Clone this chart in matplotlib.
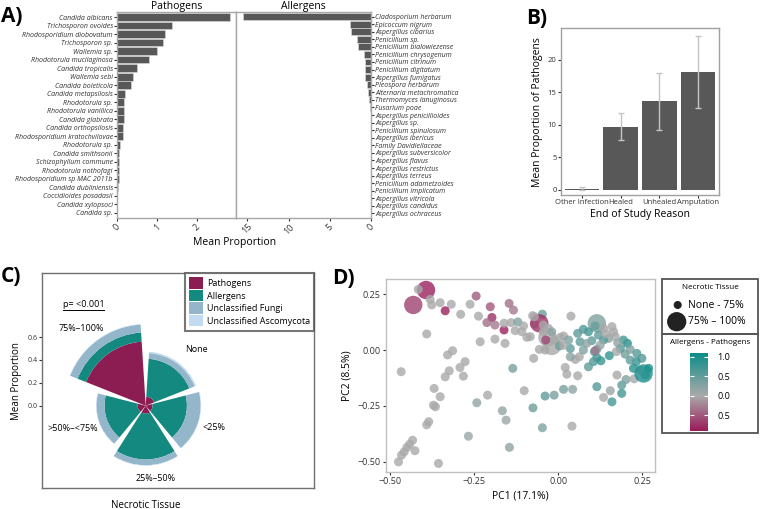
import matplotlib.pyplot as plt
import numpy as np
from matplotlib.colors import LinearSegmentedColormap, Normalize
from matplotlib.patches import Rectangle
from matplotlib.lines import Line2D

plt.rcParams['font.family'] = ['Open Sans', 'DejaVu Sans']

# ---- A) mean proportion per taxon ----
path_names = ['Candida albicans', 'Trichosporon ovoides', 'Rhodosporidium diobovatum',
              'Trichosporon sp.', 'Wallemia sp.', 'Rhodotorula mucilaginosa',
              'Candida tropicalis', 'Wallemia sebi', 'Candida boleticola',
              'Candida metapsilosis', 'Rhodotorula sp.', 'Rhodotorula vanillica',
              'Candida glabrata', 'Candida orthopsilosis', 'Rhodosporidium kratochvilovae',
              'Rhodotorula sp.', 'Candida smithsonii', 'Schizophyllum commune',
              'Rhodotorula nothofagi', 'Rhodosporidium sp MAC 2011b', 'Candida dubliniensis',
              'Coccidioides posadasii', 'Candida xylopsoci', 'Candida sp.']
path_vals = [2.83, 1.37, 1.20, 1.15, 1.01, 0.80, 0.51, 0.39, 0.36, 0.19, 0.18, 0.18,
             0.17, 0.16, 0.15, 0.08, 0.06, 0.06, 0.04, 0.04, 0.015, 0.005, 0.003, 0.002]

allg_names = ['Cladosporium herbarum', 'Epicoccum nigrum', 'Aspergillus cibarius',
              'Penicillium sp.', 'Penicillium bialowiezense', 'Penicillium chrysogenum',
              'Penicillium citrinum', 'Penicillium digitatum', 'Aspergillus fumigatus',
              'Pleospora herbarum', 'Alternaria metachromatica', 'Thermomyces lanuginosus',
              'Fusarium poae', 'Aspergillus penicillioides', 'Aspergillus sp.',
              'Penicillium spinulosum', 'Aspergillus ibericus', 'Family Davidiellaceae',
              'Aspergillus subversicolor', 'Aspergillus flavus', 'Aspergillus restrictus',
              'Aspergillus terreus', 'Penicillium adametzoides', 'Penicillium implicatum',
              'Aspergillus vitricola', 'Aspergillus candidus', 'Aspergillus ochraceus']
allg_vals = [15.5, 2.55, 2.46, 1.73, 1.53, 0.85, 0.77, 0.77, 0.73, 0.52, 0.36, 0.20, 0.12,
             0.05, 0.04, 0.03, 0.025, 0.02, 0.015, 0.012, 0.01, 0.008, 0.006, 0.005,
             0.004, 0.003, 0.002]

# ---- B) pathogens by end of study reason ----
reasons = ['Other Infection', 'Healed', 'Unhealed', 'Amputation']
reason_mean = [0.2, 9.7, 13.6, 18.1]
reason_err = [0.2, 2.1, 4.4, 5.5]

# ---- C) necrotic tissue composition ----
necro_cats = ['None', '<25%', '25%\u201350%', '>50%\u2013<75%', '75%\u2013100%']
groups = ['Pathogens', 'Allergens', 'Unclassified Fungi', 'Unclassified Ascomycota']
group_vals = [
    [0.08, 0.06, 0.07, 0.07, 0.56],
    [0.33, 0.30, 0.40, 0.29, 0.08],
    [0.05, 0.12, 0.05, 0.07, 0.07],
    [0.012, 0.004, 0.004, 0.004, 0.004],
]
group_cols = ['#8C1D52', '#14897F', '#94B6CA', '#C3DBF0']

# ---- D) PCA ----
pc1 = [-0.393, -0.431, -0.416, -0.381, -0.376, -0.351, -0.318, -0.336, -0.391, -0.290,
       -0.262, -0.244, -0.237, -0.202, -0.197, -0.212, -0.161, -0.146, -0.133, -0.140,
       -0.120, -0.128, -0.103, -0.093, -0.076, -0.047, -0.056, -0.071, -0.044, -0.032,
       -0.019, -0.009, 0.006, -0.037, 0.038, 0.058, 0.036, -0.232, -0.188, -0.158,
       -0.314, -0.329, -0.467, -0.277, -0.292, -0.282, -0.324, -0.336, -0.369, -0.351,
       -0.371, -0.365, -0.385, -0.391, -0.433, -0.442, -0.450, -0.458, -0.466, -0.475,
       -0.426, -0.356, -0.267, -0.242, -0.210, -0.166, -0.155, -0.145, -0.135, -0.101,
       -0.075, -0.047, -0.039, -0.012, 0.016, 0.043, 0.041, 0.026, 0.058, 0.051,
       0.021, -0.073, -0.056, 0.036, 0.063, 0.075, 0.016, 0.031, 0.004, 0.115,
       0.155, 0.160, 0.135, 0.189, 0.189, 0.202, 0.226, 0.254, 0.269, 0.259,
       0.244, 0.249, 0.232, 0.224, 0.214, 0.199, 0.185, 0.206, 0.194, 0.177,
       0.173, 0.175, 0.110, 0.115, 0.135, 0.160, 0.165, 0.150, 0.135, 0.125,
       0.115, 0.090, 0.100, 0.108, 0.115, 0.105, 0.127, 0.090, 0.152, 0.110,
       0.065, 0.085, 0.075, 0.120, 0.143, 0.170, 0.214, 0.234, -0.044, -0.029,
       0.016, -0.039, -0.083, -0.019, -0.071, -0.108, -0.161, -0.188]
pc2 = [0.269, 0.202, 0.272, 0.227, 0.202, 0.212, 0.205, 0.176, 0.072, 0.160,
       0.205, 0.242, 0.152, 0.194, 0.146, 0.123, 0.090, 0.209, 0.179, 0.123,
       0.126, 0.087, 0.108, 0.057, 0.154, 0.161, 0.120, 0.117, 0.082, 0.057,
       0.018, 0.045, 0.057, 0.045, 0.152, 0.075, 0.007, 0.037, 0.049, 0.030,
       -0.003, -0.022, -0.097, -0.052, -0.078, -0.117, -0.093, -0.120, -0.172, -0.209,
       -0.247, -0.254, -0.321, -0.335, -0.404, -0.422, -0.436, -0.456, -0.471, -0.501,
       -0.451, -0.508, -0.386, -0.236, -0.202, -0.272, -0.314, -0.436, -0.082, -0.182,
       -0.259, -0.348, -0.206, -0.202, -0.176, -0.176, -0.341, -0.108, -0.115, -0.042,
       -0.078, -0.037, 0.003, -0.030, -0.030, 0.000, 0.063, 0.045, 0.018, -0.164,
       -0.182, -0.232, -0.212, -0.157, -0.194, -0.132, -0.129, -0.105, -0.082, -0.112,
       -0.090, -0.037, -0.052, -0.082, -0.045, -0.018, 0.007, 0.030, 0.045, 0.033,
       -0.007, -0.112, 0.108, 0.120, 0.097, 0.105, 0.082, 0.052, 0.045, 0.022,
       0.003, 0.082, 0.042, -0.007, -0.033, -0.052, -0.048, -0.075, -0.025, -0.003,
       0.037, 0.030, 0.093, 0.067, 0.072, 0.060, 0.003, -0.015, 0.112, 0.097,
       0.022, 0.000, 0.060, 0.082, 0.149, 0.082, 0.120, 0.112]
ratio = [-0.85, -0.65, 0, 0, 0, 0, 0, -0.85, 0, 0,
         0, -0.5, 0, -0.5, -0.75, -0.35, -0.85, -0.35, -0.3, 0,
         0.3, 0, 0, 0, 0, 0.4, -0.75, -0.6, 0, 0,
         0, 0, 0, -0.6, 0, 0.5, 0.5, 0, 0, 0,
         0, 0, 0, 0, 0, 0, 0, 0, 0, 0,
         0, 0, 0, 0, 0, 0, 0, 0, 0, 0,
         0, 0, 0.1, 0.15, 0, 0.15, 0.1, 0.2, 0.35, 0,
         0.4, 0.3, 0.5, 0.35, 0.35, 0.2, 0, 0, 0, 0,
         0, 0, 0, 0.2, 0, 0.3, 0, 0.3, 0.4, 0.6,
         0.1, 0.7, 0, 0.5, 0.7, 0.3, 0, 1.0, 1.0, 0.9,
         0.8, 0.6, 0.8, 0.9, 0.5, 0.4, 0.6, 0.9, 0.7, 0.2,
         0, 0, 1.0, 0.3, 0, 0, 0, 0.2, 0.6, 0.1,
         0.3, 0.7, 0.5, 0.7, 0.7, 0.6, 0.8, 0.5, 0.8, -0.3,
         0.5, 0.2, 0.6, 0.5, 0, 0, 0.3, 0.6, 0, 0,
         0, 0, 0, 0.2, 0, 0, 0, -0.3]
big = [1, 1, 0, 0, 0, 0, 0, 0, 0, 0,
       0, 0, 0, 0, 0, 0, 0, 0, 0, 0,
       0, 0, 0, 0, 0, 0, 1, 0, 0, 1,
       1, 0, 0, 0, 0, 0, 0, 0, 0, 0,
       0, 0, 0, 0, 0, 0, 0, 0, 0, 0,
       0, 0, 0, 0, 0, 0, 0, 0, 0, 0,
       0, 0, 0, 0, 0, 0, 0, 0, 0, 0,
       0, 0, 0, 0, 0, 0, 0, 0, 0, 0,
       0, 0, 0, 0, 0, 0, 0, 0, 0, 0,
       0, 0, 0, 0, 0, 0, 0, 1, 0, 0,
       0, 0, 0, 0, 0, 0, 0, 0, 0, 0,
       0, 0, 0, 1, 0, 0, 0, 0, 0, 0,
       0, 0, 0, 0, 0, 0, 0, 0, 0, 0,
       0, 0, 0, 0, 0, 0, 0, 0, 0, 0,
       0, 0, 0, 0, 0, 0, 0, 0]

W, H = 760, 509
fig = plt.figure(figsize=(W / 100, H / 100), dpi=100)


def box(x0, y0, x1, y1, **kw):
    # pixel box (top-left origin) -> figure axes
    return fig.add_axes([x0 / W, 1 - y1 / H, (x1 - x0) / W, (y1 - y0) / H], **kw)


def frame(ax, col='#A8A8A8', lw=1.0):
    for s in ax.spines.values():
        s.set_color(col)
        s.set_linewidth(lw)


bar_col = '#585858'
tick_kw = dict(length=2, width=0.8, color='#333333', labelcolor='#333333')

# ---------------- A ----------------
axP = box(117, 12, 235.5, 218)
yP = np.arange(len(path_names))
axP.barh(yP, path_vals, height=0.9, color=bar_col, edgecolor='#DDDDDD', linewidth=0.4)
axP.set_ylim(len(path_names) - 0.4, -0.6)
axP.set_xlim(0, 2.96)
axP.set_yticks(yP)
axP.set_yticklabels(path_names, fontsize=5, style='italic')
axP.set_xticks([0, 1, 2])
axP.set_xticklabels(['0', '1', '2'], rotation=45, fontsize=6.5)
axP.tick_params(**tick_kw, pad=1)
axP.set_title('Pathogens', fontsize=7.5, pad=1)
frame(axP)

axA = box(235.5, 12, 371, 218)
yA = np.arange(len(allg_names))
axA.barh(yA, allg_vals, height=0.9, color=bar_col, edgecolor='#DDDDDD', linewidth=0.4)
axA.set_ylim(len(allg_names) - 0.4, -0.6)
axA.set_xlim(16.45, 0)
axA.yaxis.tick_right()
axA.set_yticks(yA)
axA.set_yticklabels(allg_names, fontsize=5, style='italic')
axA.set_xticks([15, 10, 5, 0])
axA.set_xticklabels(['15', '10', '5', '0'], rotation=45, fontsize=6.5)
axA.tick_params(**tick_kw, pad=1)
axA.set_title('Allergens', fontsize=7.5, pad=1)
frame(axA)

fig.text(235 / W, 1 - 243 / H, 'Mean Proportion', ha='center', va='center', fontsize=7.5)
fig.text(1 / W, 1 - 22 / H, 'A)', fontsize=15, fontweight='bold')

# ---------------- B ----------------
axB = box(560.7, 28.3, 719.3, 195)
xB = np.arange(len(reasons))
axB.bar(xB, reason_mean, width=0.9, color=bar_col)
axB.errorbar(xB, reason_mean, yerr=reason_err, fmt='none', ecolor='#C4C4C4',
             elinewidth=1, capsize=2.4, capthick=1)
axB.set_xlim(-0.55, 3.55)
axB.set_ylim(-0.77, 24.8)
axB.set_xticks(xB)
axB.set_xticklabels(reasons, fontsize=4.5)
axB.set_yticks([0, 5, 10, 15, 20])
axB.tick_params(**tick_kw, labelsize=5.5, pad=1)
axB.set_ylabel('Mean Proportion of Pathogens', fontsize=7.5, labelpad=3)
axB.set_xlabel('End of Study Reason', fontsize=7.5, labelpad=2)
frame(axB, '#A0A0A0')
fig.text(526 / W, 1 - 24 / H, 'B)', fontsize=15, fontweight='bold')

# ---------------- C ----------------
px_per = 114.5  # pixels per unit of proportion
cx, cy = 145.7, 405.7
axCf = box(41.7, 273.3, 314, 488)
axCf.set_ylim(-(488 - cy) / px_per, (cy - 273.3) / px_per)
axCf.set_yticks([0, 0.2, 0.4, 0.6])
axCf.set_yticklabels(['0.0', '0.2', '0.4', '0.6'])
axCf.set_xticks([])
axCf.tick_params(**tick_kw, labelsize=5, pad=1)
frame(axCf, '#707070', 1.0)
axCf.set_ylabel('Mean Proportion', fontsize=7, labelpad=4)
fig.text(cx / W, 1 - 505 / H, 'Necrotic Tissue', ha='center', va='center', fontsize=7)

R = 0.8
rp = R * px_per
axC = box(cx - rp, cy - rp, cx + rp, cy + rp, projection='polar')
axC.set_theta_zero_location('N')
axC.set_theta_direction(-1)
axC.set_ylim(0, R)
theta = np.arange(len(necro_cats)) * 2 * np.pi / len(necro_cats) + np.pi / len(necro_cats)
wid = 0.9 * 2 * np.pi / len(necro_cats)
bottom = np.zeros(len(necro_cats))
handles = []
for g, vals, col in zip(groups, group_vals, group_cols):
    h = axC.bar(theta, vals, width=wid, bottom=bottom, color=col, linewidth=0, label=g)
    handles.append(h)
    bottom = bottom + np.array(vals)
axC.axis('off')
lab_pos = [(42, 0.66), (108, 0.63), (172, 0.64), (253, 0.667), (320, 0.877)]
for name, (ang, rr) in zip(necro_cats, lab_pos):
    axC.text(np.deg2rad(ang), rr, name, ha='center', va='center', fontsize=6.5)

leg = axCf.legend(handles=handles, loc='upper right', bbox_to_anchor=(1.0, 1.0),
                  fontsize=6.5, frameon=True, fancybox=False, handlelength=1.6,
                  handleheight=1.6, handletextpad=0.4, labelspacing=0.1,
                  borderpad=0.45, borderaxespad=0)
leg.get_frame().set_edgecolor('#555555')
leg.get_frame().set_linewidth(1.5)

fig.text(63 / W, 1 - 307 / H, 'p= <0.001', fontsize=6.5)
fig.add_artist(Line2D([63 / W, 104 / W], [1 - 309.5 / H, 1 - 309.5 / H],
                      color='black', lw=0.7))
fig.text(1 / W, 1 - 282 / H, 'C)', fontsize=15, fontweight='bold')

# ---------------- D ----------------
vmin, vmax = -0.9, 1.09
mid = (0 - vmin) / (vmax - vmin)
cmap = LinearSegmentedColormap.from_list(
    'ap', [(0, '#9A1A5A'), (mid, '#A9A9A9'), (1, '#0D8E89')])
norm = Normalize(vmin, vmax)
s_small, s_big = 42, 175
sizes = np.where(np.array(big) == 1, s_big, s_small)

axD = box(385.7, 279.3, 655, 471.7)
axD.scatter(pc1, pc2, s=sizes, c=ratio, cmap=cmap, norm=norm, alpha=0.8, linewidths=0)
axD.set_xlim(-0.513, 0.288)
axD.set_ylim(-0.545, 0.317)
axD.set_xticks([-0.5, -0.25, 0, 0.25])
axD.set_xticklabels(['\u22120.50', '\u22120.25', '0.00', '0.25'])
axD.set_yticks([-0.5, -0.25, 0, 0.25])
axD.set_yticklabels(['\u22120.50', '\u22120.25', '0.00', '0.25'])
axD.tick_params(**tick_kw, labelsize=6.5, pad=2)
axD.set_xlabel('PC1 (17.1%)', fontsize=7.5, labelpad=3)
axD.set_ylabel('PC2 (8.5%)', fontsize=7.5, labelpad=3)
frame(axD, '#C0C0C0')
fig.text(332 / W, 1 - 284 / H, 'D)', fontsize=15, fontweight='bold')

# legend boxes
axL = box(661.7, 279.3, 758.3, 433.3)
axL.set_xlim(0, 96.6)
axL.set_ylim(154, 0)
axL.axis('off')
axL.add_patch(Rectangle((0, 0), 96.6, 54.7, fill=False, ec='#555555', lw=1.3, clip_on=False))
axL.add_patch(Rectangle((0, 54.7), 96.6, 99.3, fill=False, ec='#555555', lw=1.3, clip_on=False))
axL.text(48.3, 8, 'Necrotic Tissue', ha='center', va='center', fontsize=5.8)
axL.scatter([16, 15], [25.7, 42.4], s=[s_small * 0.8, s_big * 1.1], c='#222222', linewidths=0)
axL.text(26, 25.7, 'None - 75%', va='center', fontsize=7.5)
axL.text(26, 42.4, '75% \u2013 100%', va='center', fontsize=7.5)
axL.text(48.3, 63.4, 'Allergens - Pathogens', ha='center', va='center', fontsize=5.8)

cax = box(690, 353.3, 707.7, 430.7)
sm = plt.cm.ScalarMappable(norm=norm, cmap=cmap)
cb = fig.colorbar(sm, cax=cax)
cb.outline.set_visible(False)
cb.set_ticks([1.0, 0.5, 0.0, -0.5])
cb.set_ticklabels(['1.0', '0.5', '0.0', '0.5'])
cax.tick_params(direction='in', length=3, width=0.8, color='white', labelsize=6.5,
                pad=7, left=True)

fig.savefig('out.png', dpi=100)
